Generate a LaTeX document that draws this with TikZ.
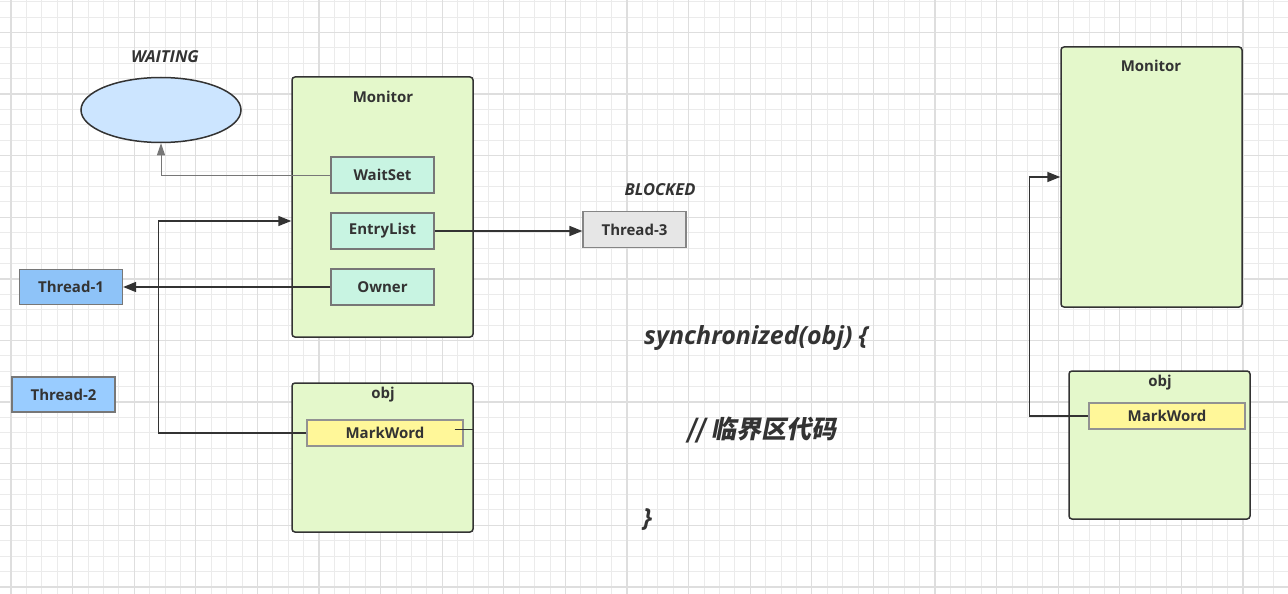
\documentclass[tikz,border=0pt]{standalone}
\usepackage{fontspec}
\setsansfont{Open Sans}
\newfontfamily\cjkfont{Noto Sans CJK SC}[FakeSlant=0.2]
\usetikzlibrary{arrows.meta,positioning,shapes.geometric}
\definecolor{inkgray}{HTML}{333333}
\definecolor{slotgray}{HTML}{777777}
\definecolor{gridminor}{HTML}{EBEBEB}
\definecolor{gridmajor}{HTML}{DEDEDE}
\definecolor{boxgreen}{HTML}{E4F8CB}
\definecolor{slotmint}{HTML}{C8F4E2}
\definecolor{threadblue}{HTML}{8EC3F8}
\definecolor{threadpale}{HTML}{99CCFF}
\definecolor{waitblue}{HTML}{CCE5FF}
\definecolor{blockgray}{HTML}{E6E6E6}
\definecolor{markyellow}{HTML}{FFF799}
\newcommand{\nodefont}{\fontsize{15}{18}\selectfont\sffamily\bfseries}
\newcommand{\statefont}{\fontsize{16.5}{20}\selectfont\sffamily\bfseries\itshape}
\newcommand{\codefont}{\fontsize{25}{30}\selectfont\sffamily\bfseries\itshape}
\tikzset{
  bigbox/.style={draw=inkgray, line width=1.5pt, fill=boxgreen, rounded corners=3pt,
    minimum width=181pt, inner sep=0pt},
  slot/.style={draw=slotgray, line width=1.2pt, fill=slotmint, minimum width=103pt,
    minimum height=36pt, inner sep=0pt, text=inkgray, font=\nodefont},
  thread/.style={slot, fill=threadblue, minimum height=35pt},
  markbox/.style={slot, draw=slotgray!80, fill=markyellow, minimum width=156pt, minimum height=26pt},
  title/.style={text=inkgray, font=\nodefont, inner sep=0pt},
  state/.style={text=inkgray, font=\statefont, inner sep=0pt},
  code/.style={text=inkgray, font=\codefont, inner sep=0pt, anchor=west},
  conn/.style={draw=inkgray, line width=1.5pt},
  arrow/.style={conn, -{Triangle[length=13pt,width=10pt]}},
  thinarrow/.style={draw=slotgray, line width=1pt, -{Triangle[length=12pt,width=8pt]}}
}
\begin{document}
\begin{tikzpicture}[x=1pt,y=-1pt]
  \fill[white] (0,0) rectangle (1288,594);
  \useasboundingbox (0,0) rectangle (1288,594);
  % grid
  \foreach \i in {0,...,82} \draw[gridminor, line width=1pt] (11+15.4*\i,0) -- (11+15.4*\i,594);
  \foreach \j in {0,...,38} \draw[gridminor, line width=1pt] (0,1.7+15.4*\j) -- (1288,1.7+15.4*\j);
  \foreach \i in {0,4,...,80} \draw[gridmajor, line width=1.3pt] (11+15.4*\i,0) -- (11+15.4*\i,594);
  \foreach \j in {2,6,...,38} \draw[gridmajor, line width=1.3pt] (0,1.7+15.4*\j) -- (1288,1.7+15.4*\j);
  % left monitor
  \node[bigbox, minimum height=260pt] (monitor) at (382.5,207) {};
  \node[title] (monitortitle) at (383,97) {Monitor};
  \node[slot] (waitset) at (382.5,175) {WaitSet};
  \node[slot] (entrylist) at (382.5,231) {EntryList};
  \node[slot] (owner) at (382.5,287) {Owner};
  % left obj
  \node[bigbox, minimum height=149pt] (obj) at (382.5,457.5) {};
  \node[title] (objtitle) at (383,395) {obj};
  \node[markbox] (markword) at (385,433) {MarkWord};
  % threads and states
  \node[ellipse, draw=inkgray, line width=1.5pt, fill=waitblue, minimum width=160pt,
    minimum height=65pt] (waiting) at (161,110) {};
  \node[state] (waitingtext) at (165,57) {WAITING};
  \node[thread] (thread1) at (71,287) {Thread-1};
  \node[thread, fill=threadpale] (thread2) at (63.5,394.5) {Thread-2};
  \node[slot, fill=blockgray, draw=slotgray!90] (thread3) at (634.5,229.5) {Thread-3};
  \node[state] (blockedtext) at (660,190) {BLOCKED};
  % code
  \node[code] (syncopen) at (644,338) {synchronized(obj) \{};
  \node[code] (syncbody) at (686,430) {\cjkfont\bfseries // 临界区代码};
  \node[code] (syncclose) at (643,520) {\}};
  % right monitor and obj
  \node[bigbox, minimum height=260pt] (monitor2) at (1151.5,177) {};
  \node[title] (monitor2title) at (1151,66) {Monitor};
  \node[bigbox, minimum height=148pt] (obj2) at (1159.5,445) {};
  \node[title] (obj2title) at (1160,383) {obj};
  \node[markbox] (markword2) at (1167,416) {MarkWord};
  % connectors
  \draw[thinarrow] (waitset.west) -| (waiting.south);
  \draw[arrow] (owner.west) -- (thread1.east);
  \draw[arrow] (entrylist.east) -- (entrylist.east -| thread3.west);
  \draw[arrow] (markword.west) -- ++(-148,0) |- ([yshift=-14pt]monitor.west);
  \draw[conn] ([xshift=-9pt,yshift=3.5pt]markword.east) -- ++(19,0);
  \draw[arrow] (markword2.west) -- ++(-59,0) |- (monitor2.west);
\end{tikzpicture}
\end{document}
